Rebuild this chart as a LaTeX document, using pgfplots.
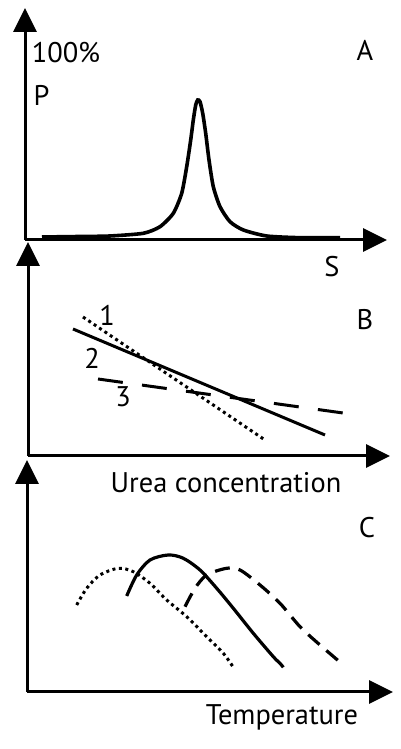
\documentclass[border=0pt]{standalone}
\usepackage{fontspec}
\setmainfont{PT Sans}
\usepackage{pgfplots}
\pgfplotsset{compat=1.18}
\usetikzlibrary{arrows.meta}
\pgfplotsset{panel/.style={scale only axis, axis lines=left, xtick=\empty, ytick=\empty,
  axis line style={line width=3bp, -{Triangle[length=24bp,width=23bp]}}, clip=false, anchor=south west}}
\begin{document}
\begin{tikzpicture}[x=1bp,y=1bp,font=\fontsize{28.5}{33}\selectfont]
\path[use as bounding box] (0,0) rectangle (400,749);
% Panel A
\begin{axis}[panel, at={(25bp,509bp)}, xmin=25, xmax=387, ymin=509, ymax=741, width=362bp, height=232bp]
\addplot[black, line width=3.6bp, smooth, tension=0.4] coordinates {
(42,512) (80,512.5) (110,513) (143.3,515.7) (160,522.3) (173.3,535.7) (181.7,555.7) (186.7,582.3) (190.7,609) (193.3,629) (195.7,644) (197.7,649) (200,647.3) (202.7,635.7) (205.7,615.7) (209,589) (213.3,562.3) (220,542.3) (230,527.3) (243.3,519) (266.7,513) (300,511.3) (340,511.3)};
\node at (axis cs:66,696) {100\%};
\node[anchor=west] at (axis cs:30,654) {P};
\node at (axis cs:365,699) {A};
\node at (axis cs:332,482) {S};
\end{axis}
% Panel B
\begin{axis}[panel, at={(28bp,293bp)}, xmin=28, xmax=390, ymin=293, ymax=507, width=362bp, height=214bp]
\addplot[black, line width=3bp, dash pattern=on 3bp off 3.5bp] coordinates {(83,432) (265,309)};
\addplot[black, line width=3bp] coordinates {(73,420) (325,314)};
\addplot[black, line width=3bp, dash pattern=on 25bp off 19.4bp] coordinates {(98,370) (343,336)};
\node at (axis cs:107,434) {1};
\node at (axis cs:92,391) {2};
\node at (axis cs:123,352) {3};
\node at (axis cs:365,429) {B};
\node at (axis cs:226,266) {Urea concentration};
\end{axis}
% Panel C
\begin{axis}[panel, at={(27bp,57bp)}, xmin=27, xmax=393, ymin=57, ymax=289, width=366bp, height=232bp]
\addplot[black, line width=3bp, dash pattern=on 3bp off 3.5bp, smooth] coordinates {
(76.7,144) (86.7,160.7) (100,174) (118.3,180.7) (133.3,177.3) (150,165.7) (166.7,149) (186.7,132.3) (206.7,112.3) (223.3,95.7) (233.3,81.7)};
\addplot[black, line width=3.2bp, smooth] coordinates {
(126.7,153) (136.7,174) (150,189) (168.3,194) (183.3,190.7) (200,179) (216.7,160.7) (233.3,140.7) (253.3,115.7) (273.3,92.3) (280,85.7) (283.3,81.7)};
\addplot[black, line width=3.2bp, dash pattern=on 15bp off 9bp, smooth] coordinates {
(185,142.3) (195,160.7) (206.7,174) (226.7,180.7) (240,179) (260,164) (280,145.7) (300,122.3) (320,104) (340.7,86.3)};
\node at (axis cs:367,221) {C};
\node at (axis cs:282,32) {Temperature};
\end{axis}
\end{tikzpicture}
\end{document}
